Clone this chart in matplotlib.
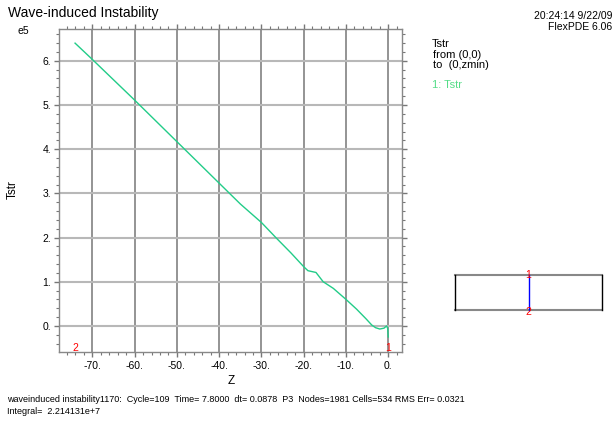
import matplotlib
matplotlib.use("Agg")
import matplotlib.pyplot as plt
from matplotlib.ticker import MultipleLocator, FuncFormatter

plt.rcParams['font.family'] = ['Liberation Sans', 'DejaVu Sans']

# Data (Tstr in units of 1e5 along Z)
z = [-74.1, -70, -65, -60, -55, -50, -45, -40, -35, -30, -26.6, -23, -20, -19,
     -17.1, -15.4, -13, -10, -7.5, -5.3, -3.9, -3, -2, -1, -0.4, -0.15, 0]
tstr = [6.40, 6.03, 5.57, 5.11, 4.64, 4.17, 3.70, 3.23, 2.76, 2.34, 2.00, 1.65,
        1.34, 1.25, 1.21, 1.00, 0.85, 0.60, 0.38, 0.165, 0.02, -0.04, -0.07,
        -0.05, 0.0, -0.05, -0.25]
x_ticks = [-70, -60, -50, -40, -30, -20, -10, 0]
y_ticks = [0, 1, 2, 3, 4, 5, 6]

W, H = 614, 421
fig = plt.figure(figsize=(W / 100, H / 100), dpi=100)

def fx(px):
    return px / W

def fy(py):
    return 1 - py / H

L, R, T, B = 59, 402, 29, 352
ax = fig.add_axes([fx(L), fy(B), (R - L) / W, (B - T) / H])
ax.set_xlim(-77.9, 3.25)
ax.set_ylim(-0.59, 6.72)

ax.grid(False)
for xv in x_ticks:
    ax.axvline(xv, color='#777777', lw=1.1, zorder=1)
for yv in y_ticks:
    ax.axhline(yv, color='#b8b8b8', lw=1.5, zorder=1)

ax.plot(z, tstr, color='#22cc88', lw=1.0, zorder=3)

ax.set_xticks(x_ticks)
ax.set_yticks(y_ticks)
ax.xaxis.set_minor_locator(MultipleLocator(2))
ax.yaxis.set_minor_locator(MultipleLocator(0.2))
fmt = FuncFormatter(lambda v, p: f"{v:g}.")
ax.xaxis.set_major_formatter(fmt)
ax.yaxis.set_major_formatter(fmt)
ax.tick_params(which='both', direction='out', top=True, right=True,
               labeltop=False, labelright=False, colors='#777777',
               labelcolor='black', labelsize=7.5)
ax.tick_params(which='major', length=3.5, width=1)
ax.tick_params(which='minor', length=2, width=0.8)
ax.tick_params(axis='y', pad=2)
ax.tick_params(axis='x', pad=3)
for s in ax.spines.values():
    s.set_color('#888888')
    s.set_linewidth(1.0)

# marker labels
ax.text(-74.1, -0.50, '2', color='red', fontsize=7.5, ha='center', va='center')
ax.text(0, -0.50, '1', color='red', fontsize=7.5, ha='center', va='center')

# texts
fig.text(fx(8), fy(13), 'Wave-induced Instability', fontsize=10, va='center', ha='left')
fig.text(fx(17), fy(31), 'e5', fontsize=7.5, va='center', ha='left')
fig.text(fx(13), fy(190), 'Tstr', fontsize=8.5, rotation=90, va='center', ha='center')
fig.text(fx(231), fy(381), 'Z', fontsize=8.5, va='center', ha='center')
fig.text(fx(612), fy(16), '20:24:14 9/22/09', fontsize=7.5, va='center', ha='right')
fig.text(fx(612), fy(27), 'FlexPDE 6.06', fontsize=7.5, va='center', ha='right')
fig.text(fx(432), fy(44), 'Tstr', fontsize=8, va='center', ha='left')
fig.text(fx(433), fy(55), 'from (0,0)', fontsize=8, va='center', ha='left')
fig.text(fx(433), fy(65), 'to  (0,zmin)', fontsize=8, va='center', ha='left')
fig.text(fx(432), fy(85), '1: Tstr', fontsize=8, va='center', ha='left', color='#55dd88')
fig.text(fx(7), fy(400),
         'waveinduced instability1170:  Cycle=109  Time= 7.8000  dt= 0.0878  P3  Nodes=1981 Cells=534 RMS Err= 0.0321',
         fontsize=6.5, va='center', ha='left')
fig.text(fx(7), fy(411), 'Integral=  2.214131e+7', fontsize=6.5, va='center', ha='left')

# domain box
bx = fig.add_axes([fx(455), fy(310), (602 - 455) / W, (310 - 275) / H])
bx.set_xlim(0, 1)
bx.set_ylim(0, 1)
bx.axis('off')
bx.plot([0, 1], [1, 1], color='#888888', lw=1.5, clip_on=False)
bx.plot([0, 1], [0, 0], color='#888888', lw=1.5, clip_on=False)
bx.plot([0, 0], [0, 1], color='black', lw=1.0, clip_on=False)
bx.plot([1, 1], [0, 1], color='black', lw=1.0, clip_on=False)
bx.plot([0.5, 0.5], [0, 1], color='blue', lw=1.0, clip_on=False)
bx.text(0.5, 1.0, '1', color='red', fontsize=7.5, ha='center', va='center')
bx.text(0.5, -0.05, '2', color='red', fontsize=7.5, ha='center', va='center')

fig.savefig('out.png', dpi=100)
